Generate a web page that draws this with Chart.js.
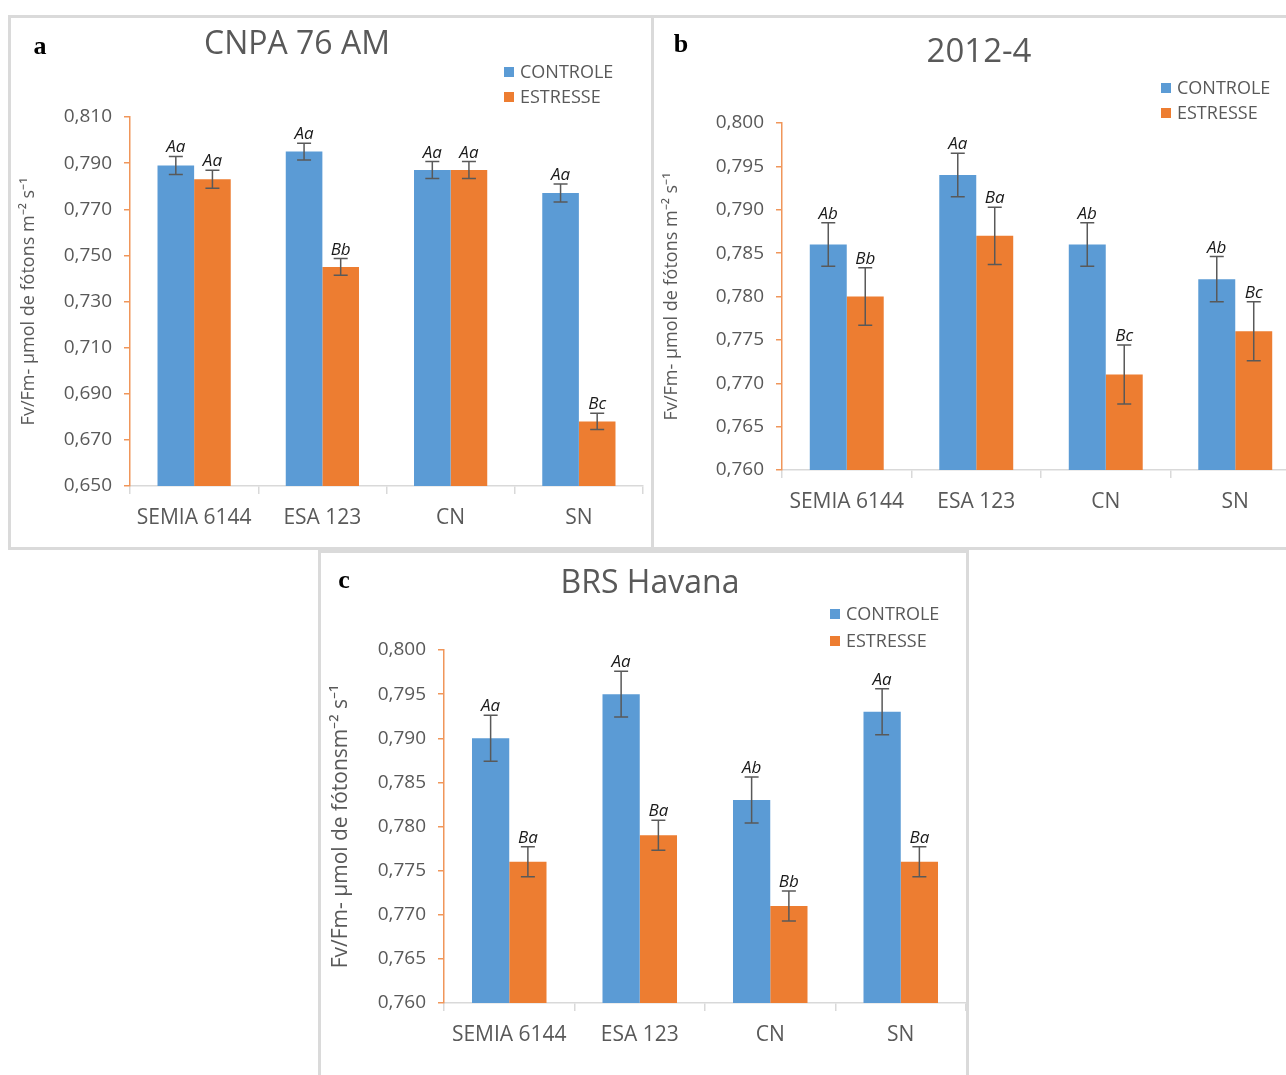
<!DOCTYPE html>
<html>
<head>
<meta charset="utf-8">
<script src="https://cdn.jsdelivr.net/npm/chart.js@4.4.0/dist/chart.umd.min.js"></script>
<style>
    body { margin: 0; background: #fff; overflow: hidden; width: 1286px; height: 1075px; position: relative; }
    .panel { position: absolute; border: 3px solid #dadada; background: #fff; }
    canvas { display: block; }
</style>
</head>
<body>
<div class="panel" style="left:8px;top:15px;width:640px;height:529px"><canvas id="chartA" width="640" height="529"></canvas></div>
<div class="panel" style="left:651px;top:15px;width:660px;height:529px"><canvas id="chartB" width="660" height="529"></canvas></div>
<div class="panel" style="left:318px;top:550px;width:645px;height:530px"><canvas id="chartC" width="645" height="530"></canvas></div>
<script>
// Categories and series
const categories = ["SEMIA 6144", "ESA 123", "CN", "SN"];
const seriesNames = ["CONTROLE", "ESTRESSE"];

// a - CNPA 76 AM
const aControle = [0.789, 0.795, 0.787, 0.777];
const aEstresse = [0.783, 0.745, 0.787, 0.678];
const aErrControle = [0.0039, 0.0036, 0.0037, 0.0039];
const aErrEstresse = [0.0039, 0.0036, 0.0037, 0.0035];
const aLetControle = ["Aa", "Aa", "Aa", "Aa"];
const aLetEstresse = ["Aa", "Bb", "Aa", "Bc"];

// b - 2012-4
const bControle = [0.786, 0.794, 0.786, 0.782];
const bEstresse = [0.780, 0.787, 0.771, 0.776];
const bErrControle = [0.0025, 0.0025, 0.0025, 0.0026];
const bErrEstresse = [0.0033, 0.0033, 0.0034, 0.0034];
const bLetControle = ["Ab", "Aa", "Ab", "Ab"];
const bLetEstresse = ["Bb", "Ba", "Bc", "Bc"];

// c - BRS Havana
const cControle = [0.790, 0.795, 0.783, 0.793];
const cEstresse = [0.776, 0.779, 0.771, 0.776];
const cErrControle = [0.0026, 0.0026, 0.0026, 0.0026];
const cErrEstresse = [0.0017, 0.0017, 0.0017, 0.0017];
const cLetControle = ["Aa", "Aa", "Ab", "Aa"];
const cLetEstresse = ["Ba", "Ba", "Bb", "Ba"];

const BLUE = "#5B9BD5";
const ORANGE = "#ED7D31";
const GRAY = "#595959";
const FONT = "'Open Sans', 'Liberation Sans', sans-serif";

// Error bars + significance letters above each bar
const errorBars = {
    id: "errorBars",
    afterDatasetsDraw(chart) {
        const ctx = chart.ctx;
        const y = chart.scales.y;
        chart.data.datasets.forEach((ds, i) => {
            const meta = chart.getDatasetMeta(i);
            meta.data.forEach((bar, j) => {
                const v = ds.data[j];
                const e = ds.errors[j];
                const top = y.getPixelForValue(v + e);
                const bot = y.getPixelForValue(v - e);
                ctx.save();
                ctx.strokeStyle = GRAY;
                ctx.lineWidth = 1.5;
                ctx.beginPath();
                ctx.moveTo(bar.x, top); ctx.lineTo(bar.x, bot);
                ctx.moveTo(bar.x - 7, top); ctx.lineTo(bar.x + 7, top);
                ctx.moveTo(bar.x - 7, bot); ctx.lineTo(bar.x + 7, bot);
                ctx.stroke();
                ctx.fillStyle = "#1a1a1a";
                ctx.font = "italic 17px " + FONT;
                ctx.textAlign = "center";
                ctx.textBaseline = "alphabetic";
                ctx.fillText(ds.letters[j], bar.x, top - 4);
                ctx.restore();
            });
        });
    }
};

// Title, panel letter and the stacked legend
const decorations = {
    id: "deco",
    afterDraw(chart, args, opts) {
        const ctx = chart.ctx;
        ctx.save();
        ctx.fillStyle = GRAY;
        ctx.font = opts.titleSize + "px " + FONT;
        ctx.textAlign = "center";
        ctx.textBaseline = "middle";
        ctx.fillText(opts.title, opts.titleX, opts.titleY);

        ctx.fillStyle = "#000";
        ctx.font = "bold 26px 'Liberation Serif', 'DejaVu Serif', serif";
        ctx.fillText(opts.letter, opts.letterX, opts.letterY);

        ctx.font = "18px " + FONT;
        ctx.textAlign = "left";
        chart.data.datasets.forEach((ds, i) => {
            const yy = opts.legY + i * opts.legGap;
            ctx.fillStyle = ds.backgroundColor;
            ctx.fillRect(opts.legX, yy - 5, 10, 10);
            ctx.fillStyle = GRAY;
            ctx.fillText(ds.label, opts.legX + 16, yy + 1);
        });
        ctx.restore();
    }
};

function makeChart(id, ctrl, stress, errC, errE, letC, letE, cfg) {
    const canvas = document.getElementById(id);
    return new Chart(canvas, {
        type: "bar",
        plugins: [errorBars, decorations],
        data: {
            labels: categories,
            datasets: [
                { label: seriesNames[0], data: ctrl, backgroundColor: BLUE, errors: errC, letters: letC },
                { label: seriesNames[1], data: stress, backgroundColor: ORANGE, errors: errE, letters: letE },
            ],
        },
        options: {
            responsive: false,
            animation: false,
            devicePixelRatio: 1,
            datasets: { bar: { categoryPercentage: 0.571, barPercentage: 1.0 } },
            layout: { padding: { left: 0, top: cfg.top, right: canvas.width - cfg.right, bottom: 0 } },
            plugins: {
                legend: { display: false },
                title: { display: false },
                tooltip: { enabled: false },
                deco: cfg.deco,
            },
            scales: {
                x: {
                    grid: { offset: true, drawOnChartArea: false, tickLength: 8, tickColor: "#d9d9d9", lineWidth: 1.5 },
                    border: { color: "#d9d9d9", width: 1.5 },
                    ticks: { color: GRAY, font: { family: FONT, size: 21 }, padding: 11, maxRotation: 0 },
                    afterFit: (s) => { s.height = canvas.height - cfg.bottom; },
                },
                y: {
                    min: cfg.min,
                    max: cfg.max,
                    grid: { drawOnChartArea: false, tickLength: 6, tickColor: "#F0965A", lineWidth: 1.5 },
                    border: { color: "#F0965A", width: 1.5 },
                    ticks: {
                        stepSize: cfg.step,
                        color: GRAY,
                        font: { family: FONT, size: 19 },
                        padding: 12,
                        callback: (v) => v.toFixed(3).replace(".", ","),
                    },
                    title: {
                        display: true,
                        text: cfg.yTitle,
                        color: GRAY,
                        font: { family: FONT, size: cfg.yTitleSize },
                        padding: { top: 7, bottom: 0 },
                    },
                    afterFit: (s) => { s.width = cfg.left; },
                },
            },
        },
    });
}

makeChart("chartA", aControle, aEstresse, aErrControle, aErrEstresse, aLetControle, aLetEstresse, {
    left: 119, right: 632, top: 99, bottom: 468,
    min: 0.65, max: 0.81, step: 0.02,
    yTitle: "Fv/Fm- µmol de fótons m⁻² s⁻¹", yTitleSize: 18,
    deco: { title: "CNPA 76 AM", titleSize: 32, titleX: 286, titleY: 27,
            letter: "a", letterX: 29, letterY: 29,
            legX: 493, legY: 54, legGap: 25 },
});

makeChart("chartB", bControle, bEstresse, bErrControle, bErrEstresse, bLetControle, bLetEstresse, {
    left: 128, right: 646, top: 105, bottom: 452,
    min: 0.76, max: 0.80, step: 0.005,
    yTitle: "Fv/Fm- µmol de fótons m⁻² s⁻¹", yTitleSize: 18,
    deco: { title: "2012-4", titleSize: 33, titleX: 325, titleY: 35,
            letter: "b", letterX: 27, letterY: 27,
            legX: 507, legY: 70, legGap: 25 },
});

makeChart("chartC", cControle, cEstresse, cErrControle, cErrEstresse, cLetControle, cLetEstresse, {
    left: 123, right: 645, top: 97, bottom: 450,
    min: 0.76, max: 0.80, step: 0.005,
    yTitle: "Fv/Fm- µmol de fótonsm⁻² s⁻¹", yTitleSize: 21,
    deco: { title: "BRS Havana", titleSize: 32, titleX: 329, titleY: 31,
            letter: "c", letterX: 23, letterY: 28,
            legX: 509, legY: 61, legGap: 27 },
});
</script>
</body>
</html>
